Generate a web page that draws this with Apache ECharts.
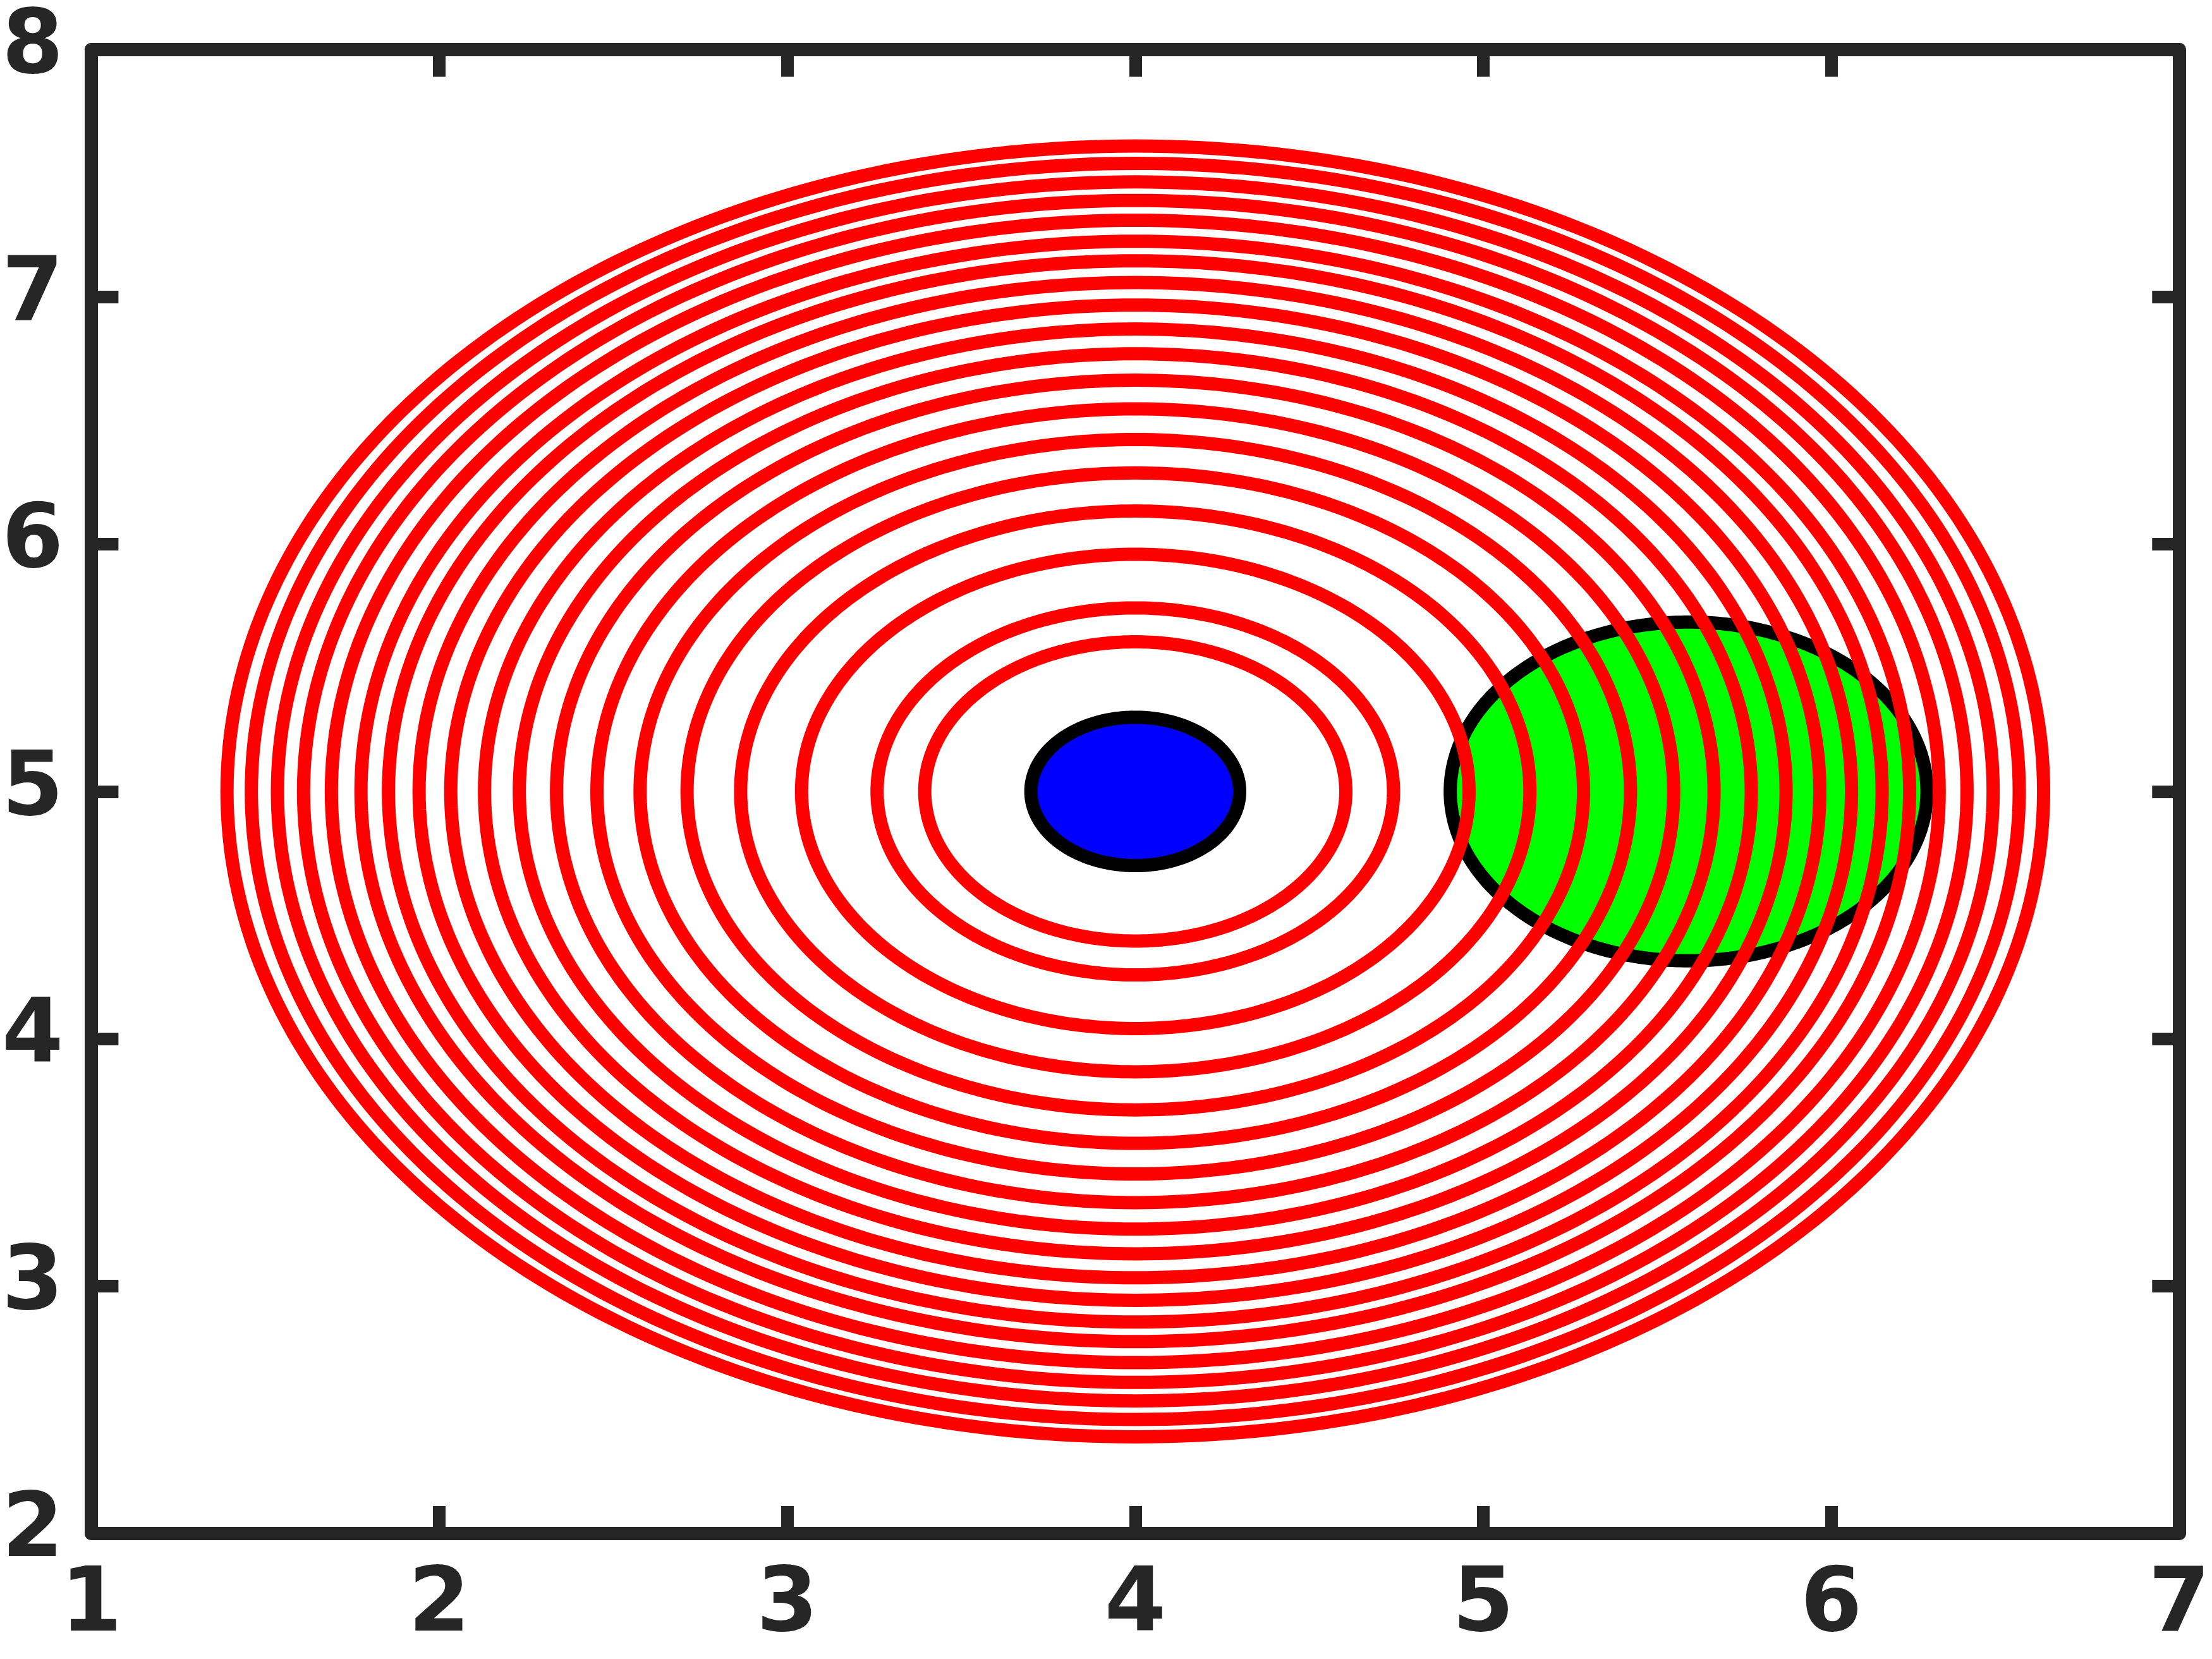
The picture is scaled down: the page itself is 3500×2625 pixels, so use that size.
<!DOCTYPE html>
<html>
<head>
<meta charset="utf-8">
<script src="https://cdn.jsdelivr.net/npm/echarts@6/dist/echarts.min.js"></script>
<style>
  html, body { margin: 0; padding: 0; background: #fff; }
  #main { width: 3500px; height: 2625px; }
</style>
</head>
<body>
<div id="main"></div>
<script>
// circles are [centerX, centerY, radius] in data units
var ringCenter = [4, 5]
var ringRadii = [2.61, 2.54, 2.465, 2.39, 2.31, 2.225, 2.146, 2.058, 1.967, 1.87,
                 1.77, 1.663, 1.547, 1.423, 1.288, 1.134, 0.959, 0.742, 0.605]
var blueDisc = [4, 5, 0.3]
var greenDisc = [5.59, 5, 0.685]
var xRange = [1, 7]
var yRange = [2, 8]

var axisColor = '#262626'
var labelFont = {
    fontFamily: 'DejaVu Sans',
    fontWeight: 'bold',
    fontSize: 140,
    color: axisColor
}

function circleRenderer (fill, stroke) {
    return function (params, api) {
        var cx = api.value(0)
        var cy = api.value(1)
        var r = api.value(2)
        var pts = []
        var n = 360
        for (var i = 0; i < n; i++) {
            var t = i / n * Math.PI * 2
            pts.push(api.coord([cx + r * Math.cos(t), cy + r * Math.sin(t)]))
        }
        return {
            type: 'polygon',
            shape: { points: pts },
            style: { fill: fill, stroke: stroke, lineWidth: 21, lineJoin: 'round' }
        }
    }
}

function makeAxis (pos, range, showLabel, margin) {
    return {
        type: 'value',
        position: pos,
        min: range[0],
        max: range[1],
        interval: 1,
        axisLine: { show: true, onZero: false, lineStyle: { color: axisColor, width: 21 } },
        axisTick: { show: true, inside: true, length: 43, lineStyle: { color: axisColor, width: 20 } },
        splitLine: { show: false },
        axisLabel: Object.assign({ show: showLabel, margin: margin }, labelFont)
    }
}

var option = {
    animation: false,
    backgroundColor: '#ffffff',
    grid: { left: 135.5, right: 47.5, top: 78.5, bottom: 199, containLabel: false },
    xAxis: [
        makeAxis('bottom', xRange, true, 48),
        makeAxis('top', xRange, false, 0)
    ],
    yAxis: [
        makeAxis('left', yRange, true, 44),
        makeAxis('right', yRange, false, 0)
    ],
    series: [
        {
            name: 'green',
            type: 'custom',
            xAxisIndex: 0,
            yAxisIndex: 0,
            renderItem: circleRenderer('#00ff00', '#000000'),
            encode: { x: 0, y: 1 },
            data: [greenDisc],
            z: 1
        },
        {
            name: 'rings',
            type: 'custom',
            xAxisIndex: 0,
            yAxisIndex: 0,
            renderItem: circleRenderer('none', '#ff0000'),
            encode: { x: 0, y: 1 },
            data: ringRadii.map(function (r) { return [ringCenter[0], ringCenter[1], r] }),
            z: 2
        },
        {
            name: 'blue',
            type: 'custom',
            xAxisIndex: 0,
            yAxisIndex: 0,
            renderItem: circleRenderer('#0000ff', '#000000'),
            encode: { x: 0, y: 1 },
            data: [blueDisc],
            z: 3
        }
    ]
}

var myChart = echarts.init(document.getElementById('main'))
myChart.setOption(option)
</script>
</body>
</html>
